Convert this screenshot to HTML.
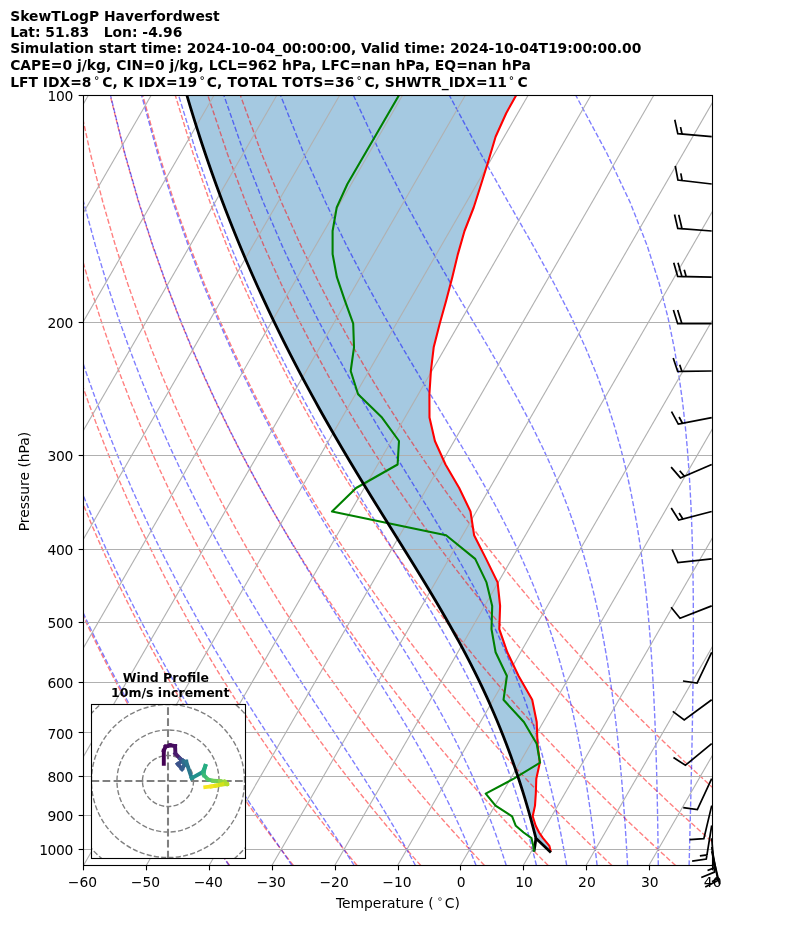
<!DOCTYPE html>
<html><head><meta charset="utf-8"><title>SkewTLogP Haverfordwest</title>
<style>html,body{margin:0;padding:0;background:#fff}body{width:794px;height:937px;overflow:hidden;position:relative}</style></head>
<body>
<svg width="794" height="937" viewBox="0 0 794 937" style="position:absolute;left:0;top:0">
<defs><clipPath id="ax"><rect x="83.50" y="95.50" width="629.00" height="770.00"/></clipPath></defs>
<rect x="0" y="0" width="794" height="937" fill="#fff"/>
<g clip-path="url(#ax)" fill="none">
<path d="M185.24 89.70 L186.98 95.70 L188.76 101.70 L190.56 107.70 L192.39 113.70 L194.25 119.70 L196.14 125.70 L198.05 131.70 L199.99 137.70 L201.96 143.70 L203.96 149.70 L205.99 155.70 L208.05 161.70 L210.13 167.70 L212.25 173.70 L214.39 179.70 L216.56 185.70 L218.77 191.70 L221.00 197.70 L223.26 203.70 L225.55 209.70 L227.88 215.70 L230.23 221.70 L232.61 227.70 L235.03 233.70 L237.47 239.70 L239.95 245.70 L242.45 251.70 L244.99 257.70 L247.56 263.70 L250.16 269.70 L252.79 275.70 L255.46 281.70 L258.15 287.70 L260.88 293.70 L263.64 299.70 L266.43 305.70 L269.25 311.70 L272.11 317.70 L275.00 323.70 L277.92 329.70 L280.87 335.70 L283.85 341.70 L286.87 347.70 L289.92 353.70 L293.00 359.70 L296.11 365.70 L299.26 371.70 L302.44 377.70 L305.65 383.70 L308.89 389.70 L312.16 395.70 L315.46 401.70 L318.80 407.70 L322.16 413.70 L325.56 419.70 L328.98 425.70 L332.43 431.70 L335.91 437.70 L339.42 443.70 L342.95 449.70 L346.51 455.70 L350.09 461.70 L353.70 467.70 L357.32 473.70 L360.97 479.70 L364.64 485.70 L368.32 491.70 L372.02 497.70 L375.73 503.70 L379.46 509.70 L383.19 515.70 L386.93 521.70 L390.68 527.70 L394.43 533.70 L398.17 539.70 L401.92 545.70 L405.65 551.70 L409.38 557.70 L413.10 563.70 L416.80 569.70 L420.48 575.70 L424.15 581.70 L427.78 587.70 L431.39 593.70 L434.97 599.70 L438.52 605.70 L442.03 611.70 L445.50 617.70 L448.93 623.70 L452.31 629.70 L455.65 635.70 L458.94 641.70 L462.18 647.70 L465.36 653.70 L468.50 659.70 L471.57 665.70 L474.59 671.70 L477.56 677.70 L480.46 683.70 L483.30 689.70 L486.09 695.70 L488.82 701.70 L491.48 707.70 L494.09 713.70 L496.64 719.70 L499.12 725.70 L501.55 731.70 L503.92 737.70 L506.24 743.70 L508.50 749.70 L510.70 755.70 L512.85 761.70 L514.94 767.70 L516.98 773.70 L518.97 779.70 L520.91 785.70 L522.80 791.70 L524.64 797.70 L526.43 803.70 L528.18 809.70 L529.89 815.70 L531.55 821.70 L533.17 827.70 L534.74 833.70 L535.90 838.20 L550.90 852.40 L550.80 851.60 L549.40 845.90 L543.00 838.20 L539.10 832.50 L535.70 825.80 L532.70 816.30 L535.00 805.60 L535.80 793.60 L536.30 778.70 L539.80 762.70 L537.50 743.70 L536.70 722.00 L532.20 699.80 L518.60 676.00 L507.30 652.30 L499.30 629.10 L500.10 605.90 L497.60 582.40 L486.10 558.90 L474.10 535.20 L470.50 511.50 L459.20 488.00 L445.50 464.50 L434.90 441.00 L429.50 417.60 L429.40 394.30 L430.90 371.00 L433.70 347.30 L439.70 323.70 L446.20 300.40 L452.30 277.20 L457.90 254.10 L464.50 231.00 L473.70 207.50 L481.20 184.00 L488.60 160.30 L495.60 136.70 L506.20 113.20 L519.30 89.70Z" fill="#1f77b4" fill-opacity="0.4" stroke="none"/>
<g stroke="#ff0000" stroke-opacity="0.5" stroke-width="1.39" stroke-dasharray="5.14 2.22">
<path d="M229.66 865.50 L225.30 859.40 L220.89 853.18 L216.45 846.84 L211.96 840.37 L207.43 833.78 L202.86 827.05 L198.24 820.18 L193.58 813.16 L188.86 805.99 L184.10 798.65 L179.29 791.15 L174.43 783.48 L169.52 775.61 L164.55 767.56 L159.53 759.30 L154.45 750.83 L149.32 742.13 L144.12 733.20 L138.86 724.02 L133.53 714.57 L128.15 704.84 L122.69 694.81 L117.16 684.46 L111.56 673.78 L105.89 662.74 L100.14 651.31 L94.31 639.47 L88.40 627.18 L82.41 614.42 L76.33 601.14 L70.17 587.29 L63.91 572.84 L57.56 557.72 L51.11 541.86 L44.57 525.20 L37.93 507.64 L31.19 489.09 L24.35 469.43 L17.41 448.51 L10.38 426.16 L3.26 402.17 L-3.94 376.29 L-11.19 348.18 L-18.47 317.43 L-25.74 283.50 L-32.93 245.63 L-39.93 202.81 L-46.54 153.53 L-52.43 95.50"/>
<path d="M293.37 865.50 L288.67 859.40 L283.92 853.18 L279.13 846.84 L274.29 840.37 L269.40 833.78 L264.46 827.05 L259.48 820.18 L254.44 813.16 L249.35 805.99 L244.20 798.65 L239.00 791.15 L233.74 783.48 L228.42 775.61 L223.04 767.56 L217.60 759.30 L212.09 750.83 L206.52 742.13 L200.88 733.20 L195.17 724.02 L189.38 714.57 L183.52 704.84 L177.58 694.81 L171.56 684.46 L165.46 673.78 L159.27 662.74 L152.99 651.31 L146.62 639.47 L140.15 627.18 L133.59 614.42 L126.92 601.14 L120.14 587.29 L113.26 572.84 L106.26 557.72 L99.15 541.86 L91.91 525.20 L84.55 507.64 L77.06 489.09 L69.44 469.43 L61.69 448.51 L53.80 426.16 L45.78 402.17 L37.64 376.29 L29.38 348.18 L21.02 317.43 L12.60 283.50 L4.16 245.63 L-4.19 202.81 L-12.31 153.53 L-19.89 95.50"/>
<path d="M357.08 865.50 L352.03 859.40 L346.94 853.18 L341.80 846.84 L336.61 840.37 L331.37 833.78 L326.07 827.05 L320.71 820.18 L315.30 813.16 L309.83 805.99 L304.30 798.65 L298.71 791.15 L293.05 783.48 L287.32 775.61 L281.53 767.56 L275.67 759.30 L269.74 750.83 L263.73 742.13 L257.64 733.20 L251.48 724.02 L245.23 714.57 L238.89 704.84 L232.47 694.81 L225.96 684.46 L219.35 673.78 L212.64 662.74 L205.84 651.31 L198.92 639.47 L191.90 627.18 L184.76 614.42 L177.50 601.14 L170.12 587.29 L162.61 572.84 L154.97 557.72 L147.18 541.86 L139.25 525.20 L131.17 507.64 L122.93 489.09 L114.53 469.43 L105.96 448.51 L97.22 426.16 L88.30 402.17 L79.21 376.29 L69.94 348.18 L60.51 317.43 L50.94 283.50 L41.26 245.63 L31.54 202.81 L21.92 153.53 L12.65 95.50"/>
<path d="M420.78 865.50 L415.40 859.40 L409.97 853.18 L404.48 846.84 L398.94 840.37 L393.34 833.78 L387.67 827.05 L381.95 820.18 L376.16 813.16 L370.31 805.99 L364.40 798.65 L358.41 791.15 L352.36 783.48 L346.23 775.61 L340.02 767.56 L333.74 759.30 L327.38 750.83 L320.93 742.13 L314.40 733.20 L307.78 724.02 L301.07 714.57 L294.27 704.84 L287.36 694.81 L280.36 684.46 L273.25 673.78 L266.02 662.74 L258.68 651.31 L251.23 639.47 L243.65 627.18 L235.93 614.42 L228.09 601.14 L220.10 587.29 L211.96 572.84 L203.67 557.72 L195.22 541.86 L186.59 525.20 L177.79 507.64 L168.81 489.09 L159.62 469.43 L150.24 448.51 L140.64 426.16 L130.83 402.17 L120.78 376.29 L110.51 348.18 L100.00 317.43 L89.28 283.50 L78.35 245.63 L67.28 202.81 L56.15 153.53 L45.19 95.50"/>
<path d="M484.49 865.50 L478.77 859.40 L473.00 853.18 L467.16 846.84 L461.26 840.37 L455.30 833.78 L449.28 827.05 L443.19 820.18 L437.03 813.16 L430.80 805.99 L424.49 798.65 L418.12 791.15 L411.66 783.48 L405.13 775.61 L398.51 767.56 L391.81 759.30 L385.02 750.83 L378.14 742.13 L371.16 733.20 L364.09 724.02 L356.92 714.57 L349.64 704.84 L342.26 694.81 L334.76 684.46 L327.14 673.78 L319.40 662.74 L311.53 651.31 L303.53 639.47 L295.39 627.18 L287.11 614.42 L278.67 601.14 L270.07 587.29 L261.31 572.84 L252.37 557.72 L243.25 541.86 L233.93 525.20 L224.41 507.64 L214.68 489.09 L204.72 469.43 L194.52 448.51 L184.07 426.16 L173.35 402.17 L162.36 376.29 L151.07 348.18 L139.50 317.43 L127.62 283.50 L115.44 245.63 L103.01 202.81 L90.38 153.53 L77.73 95.50"/>
<path d="M548.20 865.50 L542.14 859.40 L536.02 853.18 L529.84 846.84 L523.59 840.37 L517.27 833.78 L510.88 827.05 L504.42 820.18 L497.89 813.16 L491.28 805.99 L484.59 798.65 L477.82 791.15 L470.97 783.48 L464.03 775.61 L457.00 767.56 L449.88 759.30 L442.66 750.83 L435.35 742.13 L427.93 733.20 L420.40 724.02 L412.77 714.57 L405.02 704.84 L397.15 694.81 L389.16 684.46 L381.03 673.78 L372.78 662.74 L364.38 651.31 L355.84 639.47 L347.14 627.18 L338.28 614.42 L329.25 601.14 L320.05 587.29 L310.66 572.84 L301.08 557.72 L291.29 541.86 L281.28 525.20 L271.04 507.64 L260.55 489.09 L249.81 469.43 L238.79 448.51 L227.49 426.16 L215.87 402.17 L203.93 376.29 L191.64 348.18 L178.99 317.43 L165.96 283.50 L152.54 245.63 L138.74 202.81 L124.61 153.53 L110.27 95.50"/>
<path d="M611.90 865.50 L605.51 859.40 L599.05 853.18 L592.52 846.84 L585.91 840.37 L579.24 833.78 L572.49 827.05 L565.66 820.18 L558.75 813.16 L551.76 805.99 L544.69 798.65 L537.53 791.15 L530.28 783.48 L522.93 775.61 L515.49 767.56 L507.95 759.30 L500.30 750.83 L492.55 742.13 L484.69 733.20 L476.71 724.02 L468.61 714.57 L460.39 704.84 L452.04 694.81 L443.55 684.46 L434.93 673.78 L426.15 662.74 L417.23 651.31 L408.14 639.47 L398.89 627.18 L389.46 614.42 L379.84 601.14 L370.03 587.29 L360.01 572.84 L349.78 557.72 L339.32 541.86 L328.62 525.20 L317.66 507.64 L306.43 489.09 L294.90 469.43 L283.07 448.51 L270.91 426.16 L258.39 402.17 L245.50 376.29 L232.21 348.18 L218.48 317.43 L204.30 283.50 L189.63 245.63 L174.48 202.81 L158.84 153.53 L142.81 95.50"/>
<path d="M675.61 865.50 L668.88 859.40 L662.07 853.18 L655.19 846.84 L648.24 840.37 L641.21 833.78 L634.09 827.05 L626.90 820.18 L619.62 813.16 L612.25 805.99 L604.79 798.65 L597.23 791.15 L589.58 783.48 L581.83 775.61 L573.98 767.56 L566.02 759.30 L557.94 750.83 L549.76 742.13 L541.45 733.20 L533.02 724.02 L524.46 714.57 L515.77 704.84 L506.93 694.81 L497.95 684.46 L488.82 673.78 L479.53 662.74 L470.08 651.31 L460.45 639.47 L450.63 627.18 L440.63 614.42 L430.42 601.14 L420.01 587.29 L409.36 572.84 L398.48 557.72 L387.35 541.86 L375.96 525.20 L364.28 507.64 L352.30 489.09 L340.00 469.43 L327.35 448.51 L314.33 426.16 L300.92 402.17 L287.08 376.29 L272.77 348.18 L257.97 317.43 L242.64 283.50 L226.73 245.63 L210.21 202.81 L193.07 153.53 L175.35 95.50"/>
<path d="M739.32 865.50 L732.25 859.40 L725.10 853.18 L717.87 846.84 L710.57 840.37 L703.17 833.78 L695.70 827.05 L688.13 820.18 L680.48 813.16 L672.73 805.99 L664.89 798.65 L656.94 791.15 L648.89 783.48 L640.73 775.61 L632.47 767.56 L624.09 759.30 L615.59 750.83 L606.96 742.13 L598.21 733.20 L589.33 724.02 L580.31 714.57 L571.14 704.84 L561.82 694.81 L552.35 684.46 L542.72 673.78 L532.91 662.74 L522.92 651.31 L512.75 639.47 L502.38 627.18 L491.80 614.42 L481.01 601.14 L469.98 587.29 L458.71 572.84 L447.19 557.72 L435.39 541.86 L423.30 525.20 L410.90 507.64 L398.17 489.09 L385.09 469.43 L371.63 448.51 L357.75 426.16 L343.44 402.17 L328.65 376.29 L313.34 348.18 L297.46 317.43 L280.98 283.50 L263.82 245.63 L245.94 202.81 L227.30 153.53 L207.89 95.50"/>
<path d="M803.02 865.50 L795.61 859.40 L788.12 853.18 L780.55 846.84 L772.89 840.37 L765.14 833.78 L757.30 827.05 L749.37 820.18 L741.34 813.16 L733.21 805.99 L724.98 798.65 L716.64 791.15 L708.20 783.48 L699.64 775.61 L690.96 767.56 L682.16 759.30 L673.23 750.83 L664.17 742.13 L654.97 733.20 L645.64 724.02 L636.15 714.57 L626.51 704.84 L616.72 694.81 L606.75 684.46 L596.61 673.78 L586.29 662.74 L575.77 651.31 L565.05 639.47 L554.13 627.18 L542.98 614.42 L531.59 601.14 L519.96 587.29 L508.06 572.84 L495.89 557.72 L483.42 541.86 L470.64 525.20 L457.52 507.64 L444.04 489.09 L430.18 469.43 L415.90 448.51 L401.18 426.16 L385.96 402.17 L370.22 376.29 L353.91 348.18 L336.96 317.43 L319.32 283.50 L300.91 245.63 L281.68 202.81 L261.53 153.53 L240.43 95.50"/>
</g>
<g stroke="#0000ff" stroke-opacity="0.5" stroke-width="1.39" stroke-dasharray="5.14 2.22">
<path d="M229.10 865.50 L224.97 859.40 L220.78 853.18 L216.53 846.84 L212.22 840.37 L207.86 833.78 L203.43 827.05 L198.95 820.18 L194.40 813.16 L189.80 805.99 L185.14 798.65 L180.41 791.15 L175.62 783.48 L170.77 775.61 L165.86 767.56 L160.89 759.30 L155.85 750.83 L150.74 742.13 L145.57 733.20 L140.33 724.02 L135.02 714.57 L129.64 704.84 L124.19 694.81 L118.67 684.46 L113.07 673.78 L107.39 662.74 L101.64 651.31 L95.80 639.47 L89.88 627.18 L83.88 614.42 L77.78 601.14 L71.60 587.29 L65.33 572.84 L58.96 557.72 L52.50 541.86 L45.93 525.20 L39.27 507.64 L32.51 489.09 L25.65 469.43 L18.68 448.51 L11.63 426.16 L4.48 402.17 L-2.74 376.29 L-10.02 348.18 L-17.34 317.43 L-24.64 283.50 L-31.86 245.63 L-38.90 202.81 L-45.55 153.53 L-51.50 95.50"/>
<path d="M292.00 865.50 L287.86 859.40 L283.63 853.18 L279.33 846.84 L274.94 840.37 L270.46 833.78 L265.91 827.05 L261.27 820.18 L256.55 813.16 L251.75 805.99 L246.86 798.65 L241.89 791.15 L236.84 783.48 L231.70 775.61 L226.48 767.56 L221.18 759.30 L215.79 750.83 L210.31 742.13 L204.75 733.20 L199.11 724.02 L193.37 714.57 L187.55 704.84 L181.64 694.81 L175.63 684.46 L169.54 673.78 L163.34 662.74 L157.05 651.31 L150.66 639.47 L144.17 627.18 L137.58 614.42 L130.88 601.14 L124.07 587.29 L117.14 572.84 L110.10 557.72 L102.93 541.86 L95.64 525.20 L88.23 507.64 L80.68 489.09 L73.00 469.43 L65.18 448.51 L57.23 426.16 L49.14 402.17 L40.92 376.29 L32.58 348.18 L24.14 317.43 L15.62 283.50 L7.09 245.63 L-1.37 202.81 L-9.60 153.53 L-17.32 95.50"/>
<path d="M354.19 865.50 L350.31 859.40 L346.33 853.18 L342.24 846.84 L338.03 840.37 L333.72 833.78 L329.29 827.05 L324.74 820.18 L320.09 813.16 L315.31 805.99 L310.42 798.65 L305.40 791.15 L300.27 783.48 L295.03 775.61 L289.66 767.56 L284.17 759.30 L278.57 750.83 L272.84 742.13 L267.00 733.20 L261.04 724.02 L254.95 714.57 L248.75 704.84 L242.43 694.81 L235.99 684.46 L229.42 673.78 L222.73 662.74 L215.92 651.31 L208.98 639.47 L201.92 627.18 L194.72 614.42 L187.39 601.14 L179.92 587.29 L172.32 572.84 L164.56 557.72 L156.66 541.86 L148.61 525.20 L140.39 507.64 L132.01 489.09 L123.46 469.43 L114.73 448.51 L105.82 426.16 L96.72 402.17 L87.44 376.29 L77.98 348.18 L68.33 317.43 L58.53 283.50 L48.60 245.63 L38.62 202.81 L28.70 153.53 L19.09 95.50"/>
<path d="M415.49 865.50 L412.22 859.40 L408.82 853.18 L405.30 846.84 L401.66 840.37 L397.88 833.78 L393.96 827.05 L389.90 820.18 L385.70 813.16 L381.34 805.99 L376.83 798.65 L372.16 791.15 L367.33 783.48 L362.34 775.61 L357.18 767.56 L351.85 759.30 L346.35 750.83 L340.67 742.13 L334.82 733.20 L328.80 724.02 L322.60 714.57 L316.22 704.84 L309.66 694.81 L302.93 684.46 L296.03 673.78 L288.95 662.74 L281.69 651.31 L274.26 639.47 L266.65 627.18 L258.87 614.42 L250.90 601.14 L242.76 587.29 L234.43 572.84 L225.92 557.72 L217.22 541.86 L208.32 525.20 L199.22 507.64 L189.91 489.09 L180.39 469.43 L170.64 448.51 L160.65 426.16 L150.43 402.17 L139.95 376.29 L129.21 348.18 L118.21 317.43 L106.95 283.50 L95.45 245.63 L83.75 202.81 L71.93 153.53 L60.19 95.50"/>
<path d="M476.07 865.50 L473.66 859.40 L471.13 853.18 L468.50 846.84 L465.76 840.37 L462.88 833.78 L459.88 827.05 L456.75 820.18 L453.46 813.16 L450.03 805.99 L446.43 798.65 L442.66 791.15 L438.71 783.48 L434.57 775.61 L430.24 767.56 L425.70 759.30 L420.93 750.83 L415.95 742.13 L410.73 733.20 L405.26 724.02 L399.55 714.57 L393.57 704.84 L387.33 694.81 L380.83 684.46 L374.05 673.78 L366.99 662.74 L359.66 651.31 L352.05 639.47 L344.16 627.18 L335.99 614.42 L327.54 601.14 L318.82 587.29 L309.83 572.84 L300.56 557.72 L291.01 541.86 L281.20 525.20 L271.10 507.64 L260.72 489.09 L250.05 469.43 L239.08 448.51 L227.80 426.16 L216.20 402.17 L204.27 376.29 L191.98 348.18 L179.32 317.43 L166.28 283.50 L152.85 245.63 L139.05 202.81 L124.90 153.53 L110.54 95.50"/>
<path d="M506.25 865.50 L504.30 859.40 L502.26 853.18 L500.13 846.84 L497.90 840.37 L495.57 833.78 L493.12 827.05 L490.55 820.18 L487.86 813.16 L485.03 805.99 L482.05 798.65 L478.92 791.15 L475.62 783.48 L472.14 775.61 L468.47 767.56 L464.60 759.30 L460.52 750.83 L456.21 742.13 L451.65 733.20 L446.84 724.02 L441.76 714.57 L436.39 704.84 L430.72 694.81 L424.74 684.46 L418.44 673.78 L411.80 662.74 L404.81 651.31 L397.48 639.47 L389.78 627.18 L381.72 614.42 L373.29 601.14 L364.50 587.29 L355.34 572.84 L345.82 557.72 L335.95 541.86 L325.71 525.20 L315.12 507.64 L304.18 489.09 L292.88 469.43 L281.21 448.51 L269.17 426.16 L256.75 402.17 L243.93 376.29 L230.70 348.18 L217.02 317.43 L202.88 283.50 L188.27 245.63 L173.17 202.81 L157.59 153.53 L141.61 95.50"/>
<path d="M536.44 865.50 L534.94 859.40 L533.38 853.18 L531.75 846.84 L530.04 840.37 L528.25 833.78 L526.37 827.05 L524.39 820.18 L522.31 813.16 L520.12 805.99 L517.81 798.65 L515.37 791.15 L512.79 783.48 L510.06 775.61 L507.17 767.56 L504.11 759.30 L500.85 750.83 L497.40 742.13 L493.72 733.20 L489.80 724.02 L485.62 714.57 L481.17 704.84 L476.41 694.81 L471.34 684.46 L465.92 673.78 L460.13 662.74 L453.94 651.31 L447.35 639.47 L440.32 627.18 L432.83 614.42 L424.88 601.14 L416.44 587.29 L407.51 572.84 L398.08 557.72 L388.15 541.86 L377.73 525.20 L366.81 507.64 L355.40 489.09 L343.52 469.43 L331.15 448.51 L318.30 426.16 L304.97 402.17 L291.14 376.29 L276.81 348.18 L261.94 317.43 L246.50 283.50 L230.48 245.63 L213.83 202.81 L196.54 153.53 L178.64 95.50"/>
<path d="M566.70 865.50 L565.64 859.40 L564.53 853.18 L563.37 846.84 L562.15 840.37 L560.87 833.78 L559.52 827.05 L558.11 820.18 L556.62 813.16 L555.05 805.99 L553.39 798.65 L551.64 791.15 L549.78 783.48 L547.81 775.61 L545.72 767.56 L543.49 759.30 L541.12 750.83 L538.59 742.13 L535.88 733.20 L532.98 724.02 L529.87 714.57 L526.53 704.84 L522.93 694.81 L519.06 684.46 L514.87 673.78 L510.35 662.74 L505.45 651.31 L500.15 639.47 L494.39 627.18 L488.15 614.42 L481.38 601.14 L474.04 587.29 L466.09 572.84 L457.50 557.72 L448.23 541.86 L438.26 525.20 L427.58 507.64 L416.18 489.09 L404.06 469.43 L391.23 448.51 L377.70 426.16 L363.49 402.17 L348.60 376.29 L333.03 348.18 L316.77 317.43 L299.79 283.50 L282.06 245.63 L263.53 202.81 L244.15 153.53 L223.91 95.50"/>
<path d="M597.09 865.50 L596.41 859.40 L595.70 853.18 L594.96 846.84 L594.18 840.37 L593.36 833.78 L592.50 827.05 L591.59 820.18 L590.64 813.16 L589.63 805.99 L588.56 798.65 L587.43 791.15 L586.24 783.48 L584.96 775.61 L583.61 767.56 L582.16 759.30 L580.62 750.83 L578.97 742.13 L577.20 733.20 L575.29 724.02 L573.24 714.57 L571.03 704.84 L568.63 694.81 L566.03 684.46 L563.21 673.78 L560.13 662.74 L556.76 651.31 L553.07 639.47 L549.02 627.18 L544.56 614.42 L539.64 601.14 L534.19 587.29 L528.15 572.84 L521.44 557.72 L514.00 541.86 L505.73 525.20 L496.56 507.64 L486.41 489.09 L475.22 469.43 L462.94 448.51 L449.56 426.16 L435.06 402.17 L419.47 376.29 L402.81 348.18 L385.11 317.43 L366.39 283.50 L346.63 245.63 L325.79 202.81 L303.82 153.53 L280.64 95.50"/>
<path d="M627.61 865.50 L627.27 859.40 L626.91 853.18 L626.52 846.84 L626.12 840.37 L625.70 833.78 L625.26 827.05 L624.78 820.18 L624.29 813.16 L623.76 805.99 L623.20 798.65 L622.60 791.15 L621.97 783.48 L621.29 775.61 L620.56 767.56 L619.79 759.30 L618.96 750.83 L618.06 742.13 L617.10 733.20 L616.05 724.02 L614.92 714.57 L613.70 704.84 L612.37 694.81 L610.91 684.46 L609.32 673.78 L607.57 662.74 L605.65 651.31 L603.52 639.47 L601.16 627.18 L598.54 614.42 L595.61 601.14 L592.32 587.29 L588.61 572.84 L584.42 557.72 L579.65 541.86 L574.22 525.20 L567.99 507.64 L560.82 489.09 L552.57 469.43 L543.05 448.51 L532.07 426.16 L519.47 402.17 L505.10 376.29 L488.86 348.18 L470.73 317.43 L450.76 283.50 L429.02 245.63 L405.57 202.81 L380.42 153.53 L353.52 95.50"/>
<path d="M658.29 865.50 L658.22 859.40 L658.15 853.18 L658.06 846.84 L657.98 840.37 L657.88 833.78 L657.78 827.05 L657.67 820.18 L657.54 813.16 L657.41 805.99 L657.26 798.65 L657.10 791.15 L656.92 783.48 L656.73 775.61 L656.51 767.56 L656.27 759.30 L656.01 750.83 L655.72 742.13 L655.41 733.20 L655.05 724.02 L654.66 714.57 L654.22 704.84 L653.74 694.81 L653.19 684.46 L652.59 673.78 L651.90 662.74 L651.14 651.31 L650.27 639.47 L649.29 627.18 L648.17 614.42 L646.91 601.14 L645.45 587.29 L643.78 572.84 L641.85 557.72 L639.62 541.86 L637.00 525.20 L633.93 507.64 L630.29 489.09 L625.96 469.43 L620.76 448.51 L614.46 426.16 L606.79 402.17 L597.37 376.29 L585.77 348.18 L571.49 317.43 L554.06 283.50 L533.13 245.63 L508.61 202.81 L480.63 153.53 L449.44 95.50"/>
<path d="M689.10 865.50 L689.26 859.40 L689.42 853.18 L689.58 846.84 L689.74 840.37 L689.91 833.78 L690.08 827.05 L690.25 820.18 L690.43 813.16 L690.60 805.99 L690.78 798.65 L690.96 791.15 L691.14 783.48 L691.32 775.61 L691.50 767.56 L691.68 759.30 L691.86 750.83 L692.04 742.13 L692.21 733.20 L692.38 724.02 L692.55 714.57 L692.70 704.84 L692.85 694.81 L692.99 684.46 L693.11 673.78 L693.21 662.74 L693.30 651.31 L693.35 639.47 L693.38 627.18 L693.36 614.42 L693.30 601.14 L693.17 587.29 L692.98 572.84 L692.69 557.72 L692.29 541.86 L691.76 525.20 L691.04 507.64 L690.11 489.09 L688.90 469.43 L687.32 448.51 L685.27 426.16 L682.58 402.17 L679.03 376.29 L674.31 348.18 L667.95 317.43 L659.24 283.50 L647.17 245.63 L630.31 202.81 L606.98 153.53 L575.88 95.50"/>
<path d="M720.05 865.50 L720.38 859.40 L720.72 853.18 L721.07 846.84 L721.43 840.37 L721.80 833.78 L722.18 827.05 L722.58 820.18 L722.98 813.16 L723.39 805.99 L723.82 798.65 L724.26 791.15 L724.71 783.48 L725.17 775.61 L725.65 767.56 L726.15 759.30 L726.65 750.83 L727.18 742.13 L727.71 733.20 L728.27 724.02 L728.84 714.57 L729.43 704.84 L730.04 694.81 L730.66 684.46 L731.31 673.78 L731.97 662.74 L732.65 651.31 L733.35 639.47 L734.07 627.18 L734.81 614.42 L735.57 601.14 L736.35 587.29 L737.14 572.84 L737.94 557.72 L738.75 541.86 L739.57 525.20 L740.38 507.64 L741.18 489.09 L741.95 469.43 L742.67 448.51 L743.31 426.16 L743.82 402.17 L744.14 376.29 L744.15 348.18 L743.72 317.43 L742.56 283.50 L740.26 245.63 L736.05 202.81 L728.48 153.53 L714.79 95.50"/>
<path d="M751.11 865.50 L751.57 859.40 L752.05 853.18 L752.55 846.84 L753.05 840.37 L753.58 833.78 L754.12 827.05 L754.67 820.18 L755.25 813.16 L755.84 805.99 L756.45 798.65 L757.08 791.15 L757.73 783.48 L758.41 775.61 L759.10 767.56 L759.82 759.30 L760.57 750.83 L761.34 742.13 L762.14 733.20 L762.97 724.02 L763.84 714.57 L764.73 704.84 L765.66 694.81 L766.63 684.46 L767.64 673.78 L768.68 662.74 L769.78 651.31 L770.92 639.47 L772.11 627.18 L773.36 614.42 L774.67 601.14 L776.04 587.29 L777.47 572.84 L778.98 557.72 L780.57 541.86 L782.24 525.20 L784.00 507.64 L785.86 489.09 L787.83 469.43 L789.91 448.51 L792.11 426.16 L794.45 402.17 L796.92 376.29 L799.54 348.18 L802.28 317.43 L805.15 283.50 L808.08 245.63 L810.95 202.81 L813.51 153.53 L815.10 95.50"/>
<path d="M782.26 865.50 L782.83 859.40 L783.41 853.18 L784.00 846.84 L784.62 840.37 L785.25 833.78 L785.91 827.05 L786.58 820.18 L787.28 813.16 L788.00 805.99 L788.74 798.65 L789.51 791.15 L790.30 783.48 L791.13 775.61 L791.98 767.56 L792.86 759.30 L793.77 750.83 L794.72 742.13 L795.70 733.20 L796.72 724.02 L797.79 714.57 L798.89 704.84 L800.05 694.81 L801.25 684.46 L802.50 673.78 L803.81 662.74 L805.19 651.31 L806.62 639.47 L808.13 627.18 L809.71 614.42 L811.38 601.14 L813.13 587.29 L814.98 572.84 L816.94 557.72 L819.02 541.86 L821.22 525.20 L823.57 507.64 L826.08 489.09 L828.77 469.43 L831.66 448.51 L834.78 426.16 L838.15 402.17 L841.83 376.29 L845.85 348.18 L850.29 317.43 L855.20 283.50 L860.69 245.63 L866.88 202.81 L873.93 153.53 L882.03 95.50"/>
</g>
<g stroke="#b0b0b0" stroke-width="1.11">
<path d="M83.5 95.5 L712.5 95.5"/>
<path d="M83.5 322.5 L712.5 322.5"/>
<path d="M83.5 455.5 L712.5 455.5"/>
<path d="M83.5 549.5 L712.5 549.5"/>
<path d="M83.5 622.5 L712.5 622.5"/>
<path d="M83.5 682.5 L712.5 682.5"/>
<path d="M83.5 732.5 L712.5 732.5"/>
<path d="M83.5 776.5 L712.5 776.5"/>
<path d="M83.5 815.5 L712.5 815.5"/>
<path d="M83.5 849.5 L712.5 849.5"/>
<path d="M-544.80 865.5 L-100.24 95.5"/>
<path d="M-481.98 865.5 L-37.42 95.5"/>
<path d="M-419.15 865.5 L25.41 95.5"/>
<path d="M-356.32 865.5 L88.23 95.5"/>
<path d="M-293.50 865.5 L151.06 95.5"/>
<path d="M-230.68 865.5 L213.88 95.5"/>
<path d="M-167.85 865.5 L276.71 95.5"/>
<path d="M-105.02 865.5 L339.53 95.5"/>
<path d="M-42.20 865.5 L402.36 95.5"/>
<path d="M20.62 865.5 L465.18 95.5"/>
<path d="M83.45 865.5 L528.01 95.5"/>
<path d="M146.28 865.5 L590.83 95.5"/>
<path d="M209.10 865.5 L653.66 95.5"/>
<path d="M271.93 865.5 L716.48 95.5"/>
<path d="M334.75 865.5 L779.31 95.5"/>
<path d="M397.57 865.5 L842.13 95.5"/>
<path d="M460.40 865.5 L904.96 95.5"/>
<path d="M523.23 865.5 L967.78 95.5"/>
<path d="M586.05 865.5 L1030.61 95.5"/>
<path d="M648.88 865.5 L1093.43 95.5"/>
<path d="M711.70 865.5 L1156.26 95.5"/>
</g>
<path d="M535.90 838.20 L534.90 846.10 L534.00 851.60" stroke="#000000" stroke-width="2.78" stroke-linejoin="round" stroke-linecap="butt"/>
<path d="M519.30 89.70 L506.20 113.20 L495.60 136.70 L488.60 160.30 L481.20 184.00 L473.70 207.50 L464.50 231.00 L457.90 254.10 L452.30 277.20 L446.20 300.40 L439.70 323.70 L433.70 347.30 L430.90 371.00 L429.40 394.30 L429.50 417.60 L434.90 441.00 L445.50 464.50 L459.20 488.00 L470.50 511.50 L474.10 535.20 L486.10 558.90 L497.60 582.40 L500.10 605.90 L499.30 629.10 L507.30 652.30 L518.60 676.00 L532.20 699.80 L536.70 722.00 L537.50 743.70 L539.80 762.70 L536.30 778.70 L535.80 793.60 L535.00 805.60 L532.70 816.30 L535.70 825.80 L539.10 832.50 L543.00 838.20 L549.40 845.90 L550.80 851.60" stroke="#ff0000" stroke-width="2.08" stroke-linejoin="round" stroke-linecap="butt"/>
<path d="M402.20 89.70 L388.50 113.20 L374.90 136.70 L361.20 160.30 L347.40 184.00 L336.70 207.50 L332.60 231.00 L332.60 254.10 L336.90 277.20 L344.80 300.40 L353.20 323.70 L354.00 347.30 L350.70 371.00 L358.10 394.30 L382.00 417.60 L399.00 441.00 L397.60 464.50 L356.10 488.00 L332.00 511.50 L446.10 535.20 L475.20 558.90 L486.50 582.40 L492.20 605.90 L491.50 629.10 L495.60 652.30 L506.90 676.00 L503.50 699.80 L523.90 722.00 L536.70 743.70 L540.10 762.70 L513.80 778.70 L485.70 793.60 L495.50 805.60 L512.10 816.30 L515.80 825.80 L523.60 832.50 L531.50 838.20 L533.30 845.90 L534.00 851.60" stroke="#008000" stroke-width="2.08" stroke-linejoin="round" stroke-linecap="butt"/>
<path d="M185.24 89.70 L186.98 95.70 L188.76 101.70 L190.56 107.70 L192.39 113.70 L194.25 119.70 L196.14 125.70 L198.05 131.70 L199.99 137.70 L201.96 143.70 L203.96 149.70 L205.99 155.70 L208.05 161.70 L210.13 167.70 L212.25 173.70 L214.39 179.70 L216.56 185.70 L218.77 191.70 L221.00 197.70 L223.26 203.70 L225.55 209.70 L227.88 215.70 L230.23 221.70 L232.61 227.70 L235.03 233.70 L237.47 239.70 L239.95 245.70 L242.45 251.70 L244.99 257.70 L247.56 263.70 L250.16 269.70 L252.79 275.70 L255.46 281.70 L258.15 287.70 L260.88 293.70 L263.64 299.70 L266.43 305.70 L269.25 311.70 L272.11 317.70 L275.00 323.70 L277.92 329.70 L280.87 335.70 L283.85 341.70 L286.87 347.70 L289.92 353.70 L293.00 359.70 L296.11 365.70 L299.26 371.70 L302.44 377.70 L305.65 383.70 L308.89 389.70 L312.16 395.70 L315.46 401.70 L318.80 407.70 L322.16 413.70 L325.56 419.70 L328.98 425.70 L332.43 431.70 L335.91 437.70 L339.42 443.70 L342.95 449.70 L346.51 455.70 L350.09 461.70 L353.70 467.70 L357.32 473.70 L360.97 479.70 L364.64 485.70 L368.32 491.70 L372.02 497.70 L375.73 503.70 L379.46 509.70 L383.19 515.70 L386.93 521.70 L390.68 527.70 L394.43 533.70 L398.17 539.70 L401.92 545.70 L405.65 551.70 L409.38 557.70 L413.10 563.70 L416.80 569.70 L420.48 575.70 L424.15 581.70 L427.78 587.70 L431.39 593.70 L434.97 599.70 L438.52 605.70 L442.03 611.70 L445.50 617.70 L448.93 623.70 L452.31 629.70 L455.65 635.70 L458.94 641.70 L462.18 647.70 L465.36 653.70 L468.50 659.70 L471.57 665.70 L474.59 671.70 L477.56 677.70 L480.46 683.70 L483.30 689.70 L486.09 695.70 L488.82 701.70 L491.48 707.70 L494.09 713.70 L496.64 719.70 L499.12 725.70 L501.55 731.70 L503.92 737.70 L506.24 743.70 L508.50 749.70 L510.70 755.70 L512.85 761.70 L514.94 767.70 L516.98 773.70 L518.97 779.70 L520.91 785.70 L522.80 791.70 L524.64 797.70 L526.43 803.70 L528.18 809.70 L529.89 815.70 L531.55 821.70 L533.17 827.70 L534.74 833.70 L535.90 838.20 L550.90 852.40" stroke="#000000" stroke-width="2.78" stroke-linejoin="round" stroke-linecap="butt"/>
</g>
<g stroke="#000" stroke-width="1.7" fill="#000" stroke-linejoin="miter" stroke-linecap="butt">
<path d="M711.70 136.70 L677.81 133.65 L674.79 119.71 L677.81 133.65 L682.05 134.03 L680.54 127.06 L682.05 134.03Z" fill="none"/>
<path d="M711.70 184.00 L677.91 179.97 L675.30 165.95 L677.91 179.97 L682.13 180.48 L680.83 173.47 L682.13 180.48Z" fill="none"/>
<path d="M711.70 231.00 L677.77 228.44 L674.55 214.54 L677.77 228.44 L682.01 228.76 L678.79 214.86 L682.01 228.76Z" fill="none"/>
<path d="M711.70 277.20 L677.68 276.41 L673.75 262.70 L677.68 276.41 L681.93 276.51 L678.00 262.80 L681.93 276.51 L686.19 276.61 L684.22 269.75 L686.19 276.61Z" fill="none"/>
<path d="M711.70 323.70 L677.67 323.70 L673.42 310.09 L677.67 323.70 L681.93 323.70 L677.67 310.09 L681.93 323.70Z" fill="none"/>
<path d="M711.70 371.00 L677.68 371.49 L673.22 357.95 L677.68 371.49 L681.93 371.43 L679.70 364.66 L681.93 371.43Z" fill="none"/>
<path d="M711.70 417.60 L678.30 424.08 L671.53 411.53 L678.30 424.08 L682.47 423.27 L679.09 417.00 L682.47 423.27Z" fill="none"/>
<path d="M711.70 464.50 L680.43 477.92 L671.15 467.08 L680.43 477.92 L684.34 476.24 L679.70 470.82 L684.34 476.24Z" fill="none"/>
<path d="M711.70 511.50 L678.77 520.06 L671.23 507.96 L678.77 520.06 L682.88 518.99 L679.11 512.94 L682.88 518.99Z" fill="none"/>
<path d="M711.70 558.90 L677.88 562.64 L672.16 549.57 L677.88 562.64Z" fill="none"/>
<path d="M711.70 605.90 L680.03 618.35 L671.09 607.23 L680.03 618.35Z" fill="none"/>
<path d="M711.70 652.30 L697.08 683.03 L682.96 681.02 L697.08 683.03Z" fill="none"/>
<path d="M711.70 699.80 L684.23 719.88 L672.76 711.40 L684.23 719.88Z" fill="none"/>
<path d="M711.70 743.70 L685.40 765.29 L673.47 757.46 L685.40 765.29Z" fill="none"/>
<path d="M711.70 778.70 L697.35 809.56 L683.22 807.67 L697.35 809.56Z" fill="none"/>
<path d="M711.70 805.60 L703.85 838.71 L689.62 839.71 L703.85 838.71Z" fill="none"/>
<path d="M711.70 825.50 L706.27 859.09 L692.15 861.12 L706.27 859.09 L706.95 854.89 L699.89 855.91 L706.95 854.89Z" fill="none"/>
<path d="M711.70 838.20 L714.48 872.11 L701.27 877.47 L714.48 872.11 L714.14 867.87 L707.53 870.55 L714.14 867.87Z" fill="none"/>
<path d="M711.70 847.00 L717.86 880.46 L705.25 887.11 L717.86 880.46Z" fill="none"/>
<path d="M711.70 851.20 L719.60 884.30 L718.12 878.09 L712.00 881.74 L718.12 878.09Z" fill="none"/>
</g>
<rect x="83.5" y="95.5" width="629.0" height="770.0" fill="none" stroke="#000" stroke-width="1.11"/>
<g stroke="#000" stroke-width="1.11">
<path d="M83.5 95.5 L78.64 95.5"/>
<path d="M83.5 322.5 L78.64 322.5"/>
<path d="M83.5 455.5 L78.64 455.5"/>
<path d="M83.5 549.5 L78.64 549.5"/>
<path d="M83.5 622.5 L78.64 622.5"/>
<path d="M83.5 682.5 L78.64 682.5"/>
<path d="M83.5 732.5 L78.64 732.5"/>
<path d="M83.5 776.5 L78.64 776.5"/>
<path d="M83.5 815.5 L78.64 815.5"/>
<path d="M83.5 849.5 L78.64 849.5"/>
<path d="M83.5 865.5 L83.5 870.36"/>
<path d="M146.5 865.5 L146.5 870.36"/>
<path d="M209.5 865.5 L209.5 870.36"/>
<path d="M272.5 865.5 L272.5 870.36"/>
<path d="M335.5 865.5 L335.5 870.36"/>
<path d="M398.5 865.5 L398.5 870.36"/>
<path d="M460.5 865.5 L460.5 870.36"/>
<path d="M523.5 865.5 L523.5 870.36"/>
<path d="M586.5 865.5 L586.5 870.36"/>
<path d="M649.5 865.5 L649.5 870.36"/>
<path d="M712.5 865.5 L712.5 870.36"/>
</g>
<g font-family="DejaVu Sans, Liberation Sans, sans-serif" font-size="13.89" fill="#000">
<text x="72.90" y="100.50" text-anchor="end" letter-spacing="-0.4">100</text>
<text x="72.90" y="328.28" text-anchor="end" letter-spacing="-0.4">200</text>
<text x="72.90" y="461.06" text-anchor="end" letter-spacing="-0.4">300</text>
<text x="72.90" y="555.27" text-anchor="end" letter-spacing="-0.4">400</text>
<text x="72.90" y="628.34" text-anchor="end" letter-spacing="-0.4">500</text>
<text x="72.90" y="688.04" text-anchor="end" letter-spacing="-0.4">600</text>
<text x="72.90" y="738.52" text-anchor="end" letter-spacing="-0.4">700</text>
<text x="72.90" y="782.25" text-anchor="end" letter-spacing="-0.4">800</text>
<text x="72.90" y="820.82" text-anchor="end" letter-spacing="-0.4">900</text>
<text x="72.90" y="855.32" text-anchor="end" letter-spacing="-0.4">1000</text>
<text x="82.50" y="886.80" text-anchor="middle">−60</text>
<text x="145.40" y="886.80" text-anchor="middle">−50</text>
<text x="208.30" y="886.80" text-anchor="middle">−40</text>
<text x="271.20" y="886.80" text-anchor="middle">−30</text>
<text x="334.10" y="886.80" text-anchor="middle">−20</text>
<text x="397.00" y="886.80" text-anchor="middle">−10</text>
<text x="461.10" y="886.80" text-anchor="middle">0</text>
<text x="524.00" y="886.80" text-anchor="middle">10</text>
<text x="586.90" y="886.80" text-anchor="middle">20</text>
<text x="649.80" y="886.80" text-anchor="middle">30</text>
<text x="712.70" y="886.80" text-anchor="middle">40</text>
<text x="335.9" y="907.6">Temperature (</text><text x="440.0" y="902.2" font-size="9.7" text-anchor="middle">∘</text><text x="444.7" y="907.6">C)</text>
<text transform="translate(28.6 481.50) rotate(-90)" text-anchor="middle">Pressure (hPa)</text>
</g>
<g font-family="DejaVu Sans, Liberation Sans, sans-serif" font-size="13.89" font-weight="bold" fill="#000" xml:space="preserve">
<text x="10.15" y="21.0">SkewTLogP Haverfordwest</text>
<text x="10.15" y="37.4">Lat: 51.83   Lon: -4.96</text>
<text x="10.15" y="52.9" textLength="631.2" lengthAdjust="spacing">Simulation start time: 2024-10-04_00:00:00, Valid time: 2024-10-04T19:00:00.00</text>
<text x="10.15" y="70.2" textLength="520.8" lengthAdjust="spacing">CAPE=0 j/kg, CIN=0 j/kg, LCL=962 hPa, LFC=nan hPa, EQ=nan hPa</text>
<text x="10.15" y="86.6">LFT IDX=8</text>
<text x="102.3" y="86.6" textLength="94.8" lengthAdjust="spacing">C, K IDX=19</text>
<text x="206.8" y="86.6" textLength="147.6" lengthAdjust="spacing">C, TOTAL TOTS=36</text>
<text x="364.4" y="86.6" textLength="142.6" lengthAdjust="spacing">C, SHWTR_IDX=11</text>
<text x="517.6" y="86.6">C</text>
<text x="96.9" y="81.0" font-size="9.7" text-anchor="middle">∘</text>
<text x="202.2" y="81.0" font-size="9.7" text-anchor="middle">∘</text>
<text x="359.3" y="81.0" font-size="9.7" text-anchor="middle">∘</text>
<text x="511.6" y="81.0" font-size="9.7" text-anchor="middle">∘</text>
</g>
<rect x="91.5" y="704.5" width="154.0" height="154.0" fill="#fff" stroke="none"/>
<defs><clipPath id="hc"><rect x="91.5" y="704.5" width="154.0" height="154.0"/></clipPath></defs>
<g clip-path="url(#hc)" fill="none">
<path d="M193.52 781.0 A25.52 25.52 0 1 0 142.48 781.0 A25.52 25.52 0 1 0 193.52 781.0" stroke="#808080" stroke-width="1.39" stroke-dasharray="5.14 2.22"/>
<path d="M219.04 781.0 A51.04 51.04 0 1 0 116.96 781.0 A51.04 51.04 0 1 0 219.04 781.0" stroke="#808080" stroke-width="1.39" stroke-dasharray="5.14 2.22"/>
<path d="M244.56 781.0 A76.56 76.56 0 1 0 91.44 781.0 A76.56 76.56 0 1 0 244.56 781.0" stroke="#808080" stroke-width="1.39" stroke-dasharray="5.14 2.22"/>
<path d="M270.08 781.0 A102.08 102.08 0 1 0 65.92 781.0 A102.08 102.08 0 1 0 270.08 781.0" stroke="#808080" stroke-width="1.39" stroke-dasharray="5.14 2.22"/>
<path d="M168.0 858.5 L168.0 704.5" stroke="#808080" stroke-width="2.08" stroke-dasharray="7.71 3.33"/>
<path d="M91.5 781.0 L245.5 781.0" stroke="#808080" stroke-width="2.08" stroke-dasharray="7.71 3.33"/>
<path d="M163.8 763.7 L163.8 750.6" stroke="#440154" stroke-width="3.9" stroke-linecap="square"/>
<path d="M163.8 750.6 L165.6 746.6" stroke="#450457" stroke-width="3.9" stroke-linecap="square"/>
<path d="M165.6 746.6 L170.1 745.3" stroke="#46085c" stroke-width="3.9" stroke-linecap="square"/>
<path d="M170.1 745.3 L175.1 746.1" stroke="#460b5e" stroke-width="3.9" stroke-linecap="square"/>
<path d="M175.1 746.1 L175.4 753.6" stroke="#471063" stroke-width="3.9" stroke-linecap="square"/>
<path d="M175.4 753.6 L180.2 758.7" stroke="#481a6c" stroke-width="3.9" stroke-linecap="square"/>
<path d="M180.2 758.7 L182.8 760.6" stroke="#3e4989" stroke-width="3.9" stroke-linecap="square"/>
<path d="M182.8 760.6 L177.8 764.0" stroke="#38588c" stroke-width="3.9" stroke-linecap="square"/>
<path d="M177.8 764.0 L182.0 769.0" stroke="#3b528b" stroke-width="3.9" stroke-linecap="square"/>
<path d="M182.0 769.0 L184.4 765.0" stroke="#355f8d" stroke-width="3.9" stroke-linecap="square"/>
<path d="M184.4 765.0 L183.6 761.6" stroke="#31678e" stroke-width="3.9" stroke-linecap="square"/>
<path d="M183.6 761.6 L186.2 761.7" stroke="#2e6f8e" stroke-width="3.9" stroke-linecap="square"/>
<path d="M186.2 761.7 L191.7 778.1" stroke="#2a788e" stroke-width="3.9" stroke-linecap="square"/>
<path d="M191.7 778.1 L202.9 772.0" stroke="#21918c" stroke-width="3.9" stroke-linecap="square"/>
<path d="M202.9 772.0 L205.3 766.0" stroke="#22a884" stroke-width="3.9" stroke-linecap="square"/>
<path d="M205.3 766.0 L203.6 772.5" stroke="#26ad81" stroke-width="3.9" stroke-linecap="square"/>
<path d="M203.6 772.5 L204.1 775.3" stroke="#2cb17e" stroke-width="3.9" stroke-linecap="square"/>
<path d="M204.1 775.3 L207.8 779.3" stroke="#3bbb75" stroke-width="3.9" stroke-linecap="square"/>
<path d="M207.8 779.3 L213.2 780.8" stroke="#52c569" stroke-width="3.9" stroke-linecap="square"/>
<path d="M213.2 780.8 L219.9 781.1" stroke="#6ece58" stroke-width="3.9" stroke-linecap="square"/>
<path d="M219.9 781.1 L224.7 781.7" stroke="#8ed645" stroke-width="3.9" stroke-linecap="square"/>
<path d="M224.7 781.7 L227.1 784.1" stroke="#a2da37" stroke-width="3.9" stroke-linecap="square"/>
<path d="M227.1 784.1 L222.3 784.4" stroke="#b5de2b" stroke-width="3.9" stroke-linecap="square"/>
<path d="M222.3 784.4 L216.2 785.6" stroke="#d2e21b" stroke-width="3.9" stroke-linecap="square"/>
<path d="M216.2 785.6 L211.5 786.4" stroke="#e5e419" stroke-width="3.9" stroke-linecap="square"/>
<path d="M211.5 786.4 L205.3 787.1" stroke="#f6e620" stroke-width="3.9" stroke-linecap="square"/>
</g>
<g font-family="DejaVu Sans, Liberation Sans, sans-serif" font-size="12.5" font-weight="bold" fill="#000" text-anchor="middle"><text x="165.9" y="682.3">Wind Profile</text><text x="170.3" y="697">10m/s increment</text></g>
<rect x="91.5" y="704.5" width="154.0" height="154.0" fill="none" stroke="#000" stroke-width="1.11"/>
</svg>
</body></html>
